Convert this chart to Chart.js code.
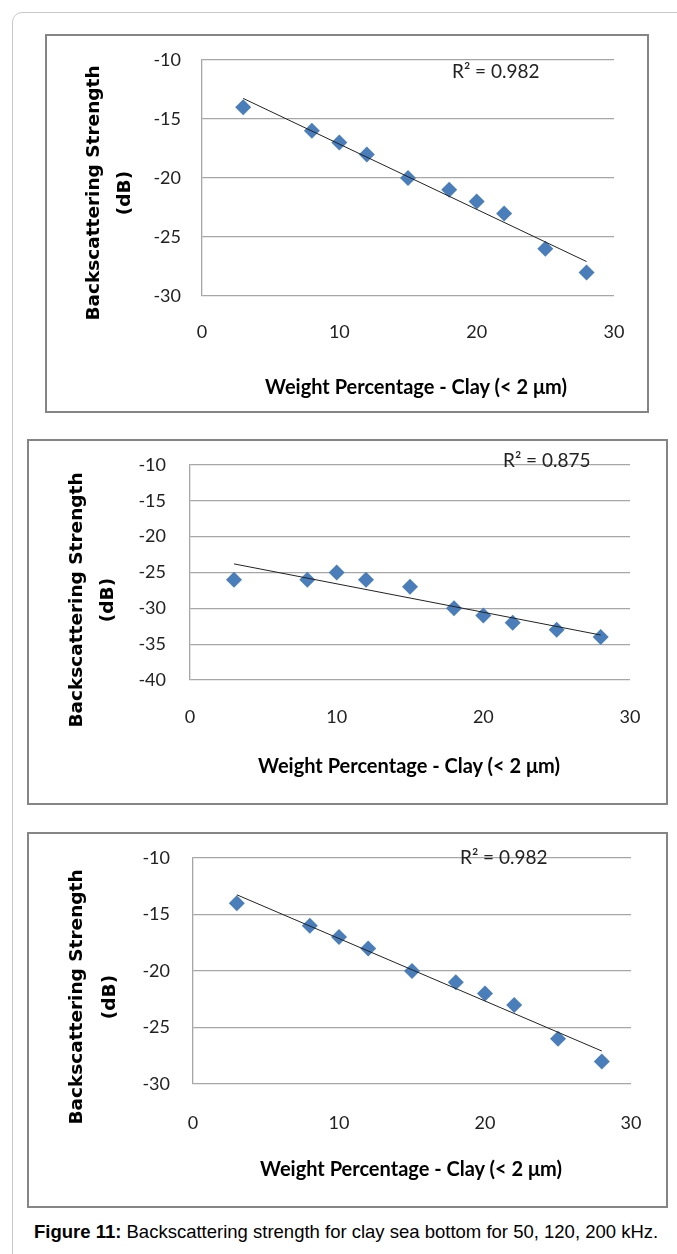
<!DOCTYPE html>
<html>
<head>
<meta charset="utf-8">
<script src="https://cdn.jsdelivr.net/npm/chart.js@4"></script>
<style>
  html, body { margin:0; padding:0; background:#fff; }
  body { width:677px; height:1254px; position:relative; overflow:hidden; }
  .frame { position:absolute; left:12px; top:12px; width:720px; height:1300px;
           border:1.5px solid #c9c9c9; border-radius:10px; }
  .box { position:absolute; border:2px solid #858585; box-sizing:border-box; background:#fff; }
  canvas { position:absolute; }
  .ytitle { position:absolute; font-family:"DejaVu Sans"; font-weight:bold; font-size:18.5px;
            color:#000; white-space:nowrap; transform:translate(-50%,-50%) rotate(-90deg); }
  .xtitle { position:absolute; font-family:Lato; font-weight:bold; font-size:20px; color:#000;
            white-space:nowrap; transform:translate(-50%,-50%); }
  .r2 { position:absolute; font-family:Lato; font-size:19px; color:#222; white-space:nowrap;
        transform:translateY(-50%); }
  .caption { position:absolute; left:34px; top:1232px; transform:translateY(-50%);
             font-family:"Liberation Sans"; font-size:18.5px; color:#000; white-space:nowrap; }
</style>
</head>
<body>
<div class="frame"></div>
<div id="panels"></div>
<div class="caption"><b>Figure 11:</b> Backscattering strength for clay sea bottom for 50, 120, 200 kHz.</div>
<script>
// data
const weightPct = [3, 8, 10, 12, 15, 18, 20, 22, 25, 28];
const bs50kHz  = [-14, -16, -17, -18, -20, -21, -22, -23, -26, -28];
const bs120kHz = [-26, -26, -25, -26, -27, -30, -31, -32, -33, -34];
const bs200kHz = [-14, -16, -17, -18, -20, -21, -22, -23, -26, -28];
const r2Values = ['0.982', '0.875', '0.982'];
const xTickMin = 0, xTickMax = 30, xTickStep = 10;
const yMins = [-30, -40, -30];
const yMax = -10, yStep = 5;

const yTitleLines = ['Backscattering Strength', '(dB)'];
const xTitle = 'Weight Percentage - Clay (< 2 \u03bcm)';

// page layout of each panel (pixels)
const panels = [
  { series: bs50kHz,  box:{l:45, t:34,  r:649, b:413},  plot:{L:202, T:60,  R:614, B:296},
    yGap:21, xGap:27, yt:{x1:92, x2:123, y:193},  xt:{x:416, y:386},  r2:{x:452, y:70} },
  { series: bs120kHz, box:{l:27, t:439, r:668, b:805},  plot:{L:190, T:465, R:630, B:680},
    yGap:24, xGap:28, yt:{x1:75, x2:106, y:600},  xt:{x:409, y:765},  r2:{x:503, y:459} },
  { series: bs200kHz, box:{l:27, t:832, r:668, b:1208}, plot:{L:193, T:858, R:631, B:1084},
    yGap:23, xGap:30, yt:{x1:75, x2:108, y:997},  xt:{x:411, y:1168}, r2:{x:460, y:856} }
];

// least squares line, like the spreadsheet trendline
function trend(xs, ys){
  const n = xs.length;
  const mx = xs.reduce((a,b)=>a+b,0)/n, my = ys.reduce((a,b)=>a+b,0)/n;
  let sxy = 0, sxx = 0;
  for(let i=0;i<n;i++){ sxy += (xs[i]-mx)*(ys[i]-my); sxx += (xs[i]-mx)**2; }
  const k = sxy/sxx, b = my - k*mx;
  const x0 = xs[0], x1 = xs[n-1];
  return [{x:x0, y:k*x0+b}, {x:x1, y:k*x1+b}];
}

const host = document.getElementById('panels');

panels.forEach((p, i) => {
  const box = p.box, pl = p.plot;
  const w = box.r - box.l, h = box.b - box.t;

  const d = document.createElement('div');
  d.className = 'box';
  d.style.cssText = `left:${box.l}px;top:${box.t}px;width:${w}px;height:${h}px`;
  host.appendChild(d);

  const cv = document.createElement('canvas');
  cv.width = w; cv.height = h;
  cv.style.cssText = `left:${box.l}px;top:${box.t}px;width:${w}px;height:${h}px`;
  host.appendChild(cv);

  // titles and R² label
  yTitleLines.forEach((t, j) => {
    const s = document.createElement('div');
    s.className = 'ytitle';
    s.textContent = t;
    s.style.left = (j === 0 ? p.yt.x1 : p.yt.x2) + 'px';
    s.style.top = p.yt.y + 'px';
    host.appendChild(s);
  });
  const xt = document.createElement('div');
  xt.className = 'xtitle';
  xt.textContent = xTitle;
  xt.style.left = p.xt.x + 'px'; xt.style.top = p.xt.y + 'px';
  host.appendChild(xt);
  const r2 = document.createElement('div');
  r2.className = 'r2';
  r2.textContent = 'R\u00b2 = ' + r2Values[i];
  r2.style.left = p.r2.x + 'px'; r2.style.top = p.r2.y + 'px';
  host.appendChild(r2);

  const pts = weightPct.map((x, k) => ({x, y:p.series[k]}));

  // gap between axis and labels is made with invisible tick marks,
  // so the scale does not push the plot area in
  new Chart(cv.getContext('2d'), {
    type: 'scatter',
    data: {
      datasets: [
        { type:'line', data: trend(weightPct, p.series), borderColor:'#222', borderWidth:1,
          pointRadius:0, fill:false, order:0 },
        { data: pts, pointStyle:'rectRot', pointRadius:8, backgroundColor:'#4a7ebb',
          borderColor:'#4a7ebb', borderWidth:0, order:1 }
      ]
    },
    options: {
      responsive:false,
      animation:false,
      devicePixelRatio:1,
      layout:{ padding:{ left:0, top: pl.T - box.t, right: box.r - pl.R, bottom:0 } },
      plugins:{ legend:{display:false}, tooltip:{enabled:false} },
      scales:{
        x:{
          type:'linear', min:xTickMin, max:xTickMax,
          ticks:{ stepSize:xTickStep, padding:0, color:'#222', font:{family:'Lato', size:18} },
          grid:{ display:false, drawOnChartArea:false, drawTicks:true, tickLength:p.xGap - 2, tickColor:'rgba(0,0,0,0)' },
          border:{ display:false },
          afterFit: s => { s.height = box.b - pl.B; }
        },
        y:{
          min:yMins[i], max:yMax,
          ticks:{ stepSize:yStep, padding:0, color:'#222', font:{family:'Lato', size:18} },
          grid:{ color:'#a6a6a6', lineWidth:1.3, drawTicks:true, tickLength:p.yGap, tickColor:'rgba(0,0,0,0)' },
          border:{ display:true, color:'#a6a6a6', width:1.3 },
          afterFit: s => { s.width = pl.L - box.l; }
        }
      }
    }
  });
});
</script>
</body>
</html>
